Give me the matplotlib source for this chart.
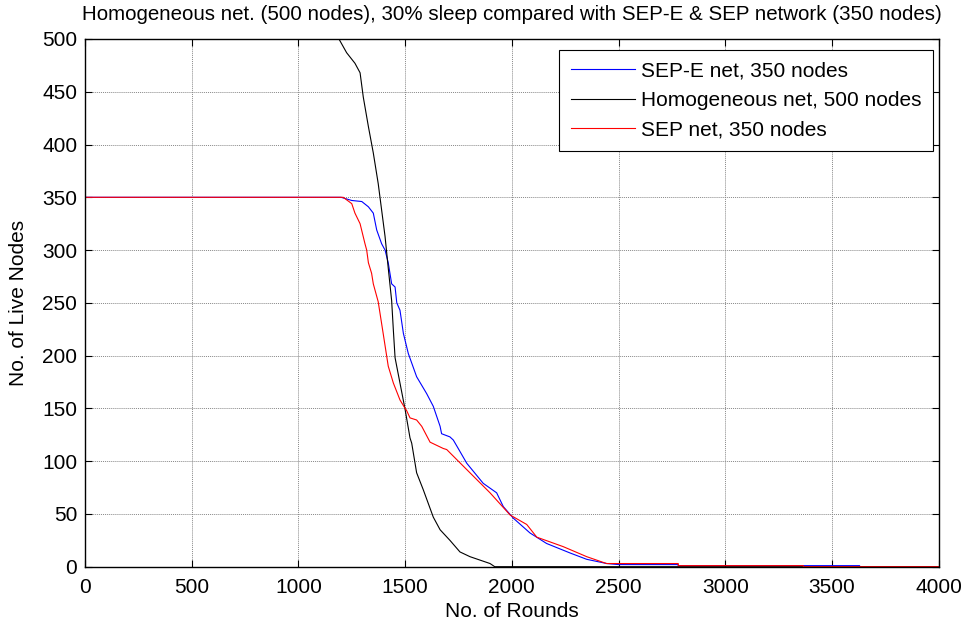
import matplotlib
matplotlib.use("Agg")
import matplotlib.pyplot as plt

plt.rcParams['font.family'] = ['Liberation Sans', 'DejaVu Sans']

# SEP-E net, 350 nodes (blue)
sepe_rounds = [0, 1200, 1250, 1297, 1328, 1351, 1367, 1390, 1406, 1421, 1437, 1453, 1461, 1476,
               1492, 1515, 1554, 1601, 1632, 1664, 1671, 1710, 1726, 1749, 1789, 1866, 1929,
               1960, 2007, 2085, 2163, 2273, 2351, 2445, 2500, 2600, 2780, 2780, 3630, 3630, 4000]
sepe_alive = [350, 350, 347, 346, 341, 335, 319, 306, 300, 288, 268, 265, 250, 243,
              221, 202, 180, 164, 152, 133, 126, 123, 120, 112, 98, 79, 70,
              57, 46, 32, 22, 13, 7, 3, 2, 2, 2, 1, 1, 0, 0]

# Homogeneous net, 500 nodes (black)
homo_rounds = [0, 1190, 1226, 1265, 1289, 1304, 1328, 1351, 1374, 1390, 1406, 1421, 1437, 1445,
               1453, 1476, 1500, 1523, 1531, 1554, 1585, 1632, 1664, 1710, 1757, 1804, 1898,
               1920, 4000]
homo_alive = [500, 500, 487, 477, 468, 445, 417, 392, 363, 338, 313, 283, 252, 224,
              198, 174, 149, 122, 117, 89, 73, 47, 35, 25, 14, 9.5, 3,
              0, 0]

# SEP net, 350 nodes (red)
sep_rounds = [0, 1200, 1210, 1250, 1265, 1289, 1312, 1320, 1328, 1343, 1351, 1374, 1398, 1421,
              1445, 1476, 1500, 1507, 1523, 1554, 1578, 1617, 1679, 1695, 1789, 1898, 1992,
              2070, 2117, 2241, 2351, 2444, 2780, 2780, 3366, 3366, 4000]
sep_alive = [350, 350, 350, 344, 335, 325, 306, 300, 288, 278, 268, 251, 220, 190,
             174, 158, 150, 148, 141, 139, 133, 118, 112, 111, 92, 70, 49,
             40, 28, 19, 9.5, 3, 3, 1, 1, 0, 0]

x_ticks = list(range(0, 4001, 500))
y_ticks = list(range(0, 501, 50))

title = "Homogeneous net. (500 nodes), 30% sleep compared with SEP-E & SEP network (350 nodes)"
labels = ["SEP-E net, 350 nodes", "Homogeneous net, 500 nodes", "SEP net, 350 nodes"]

FS = 15

fig = plt.figure(figsize=(9.71, 6.30), dpi=100)
ax = fig.add_axes([85 / 971, 1 - 566.7 / 630, (938.6 - 85) / 971, (566.7 - 39) / 630])

ax.plot(sepe_rounds, sepe_alive, color='#0000FF', lw=0.8, label=labels[0])
ax.plot(homo_rounds, homo_alive, color='#000000', lw=0.8, label=labels[1])
ax.plot(sep_rounds, sep_alive, color='#FF0000', lw=0.8, label=labels[2])

ax.set_xlim(0, 4000)
ax.set_ylim(0, 500)
ax.set_xticks(x_ticks)
ax.set_yticks(y_ticks)
ax.tick_params(direction='in', length=5, width=0.8, top=True, right=True, labelsize=FS)
ax.tick_params(axis='x', pad=8)
ax.tick_params(axis='y', pad=5.5)
ax.grid(True, color='#888888', linestyle=(0, (1, 1)), linewidth=0.7)
for s in ax.spines.values():
    s.set_linewidth(1.0)
    s.set_color('black')

ax.set_xlabel("No. of Rounds", fontsize=FS, labelpad=4)
ax.set_ylabel("No. of Live Nodes", fontsize=FS, labelpad=10)
ax.set_title(title, fontsize=14.8, pad=14)

leg = ax.legend(loc='upper right', bbox_to_anchor=(1 - 5.6 / 853.6, 1 - 11 / 527.7),
                borderaxespad=0, fontsize=FS, frameon=True, fancybox=False,
                edgecolor='black', framealpha=1, handlelength=3.1, handletextpad=0.27,
                labelspacing=0.5, borderpad=0.55)
leg.get_frame().set_linewidth(0.8)

fig.savefig("out.png", dpi=100)
